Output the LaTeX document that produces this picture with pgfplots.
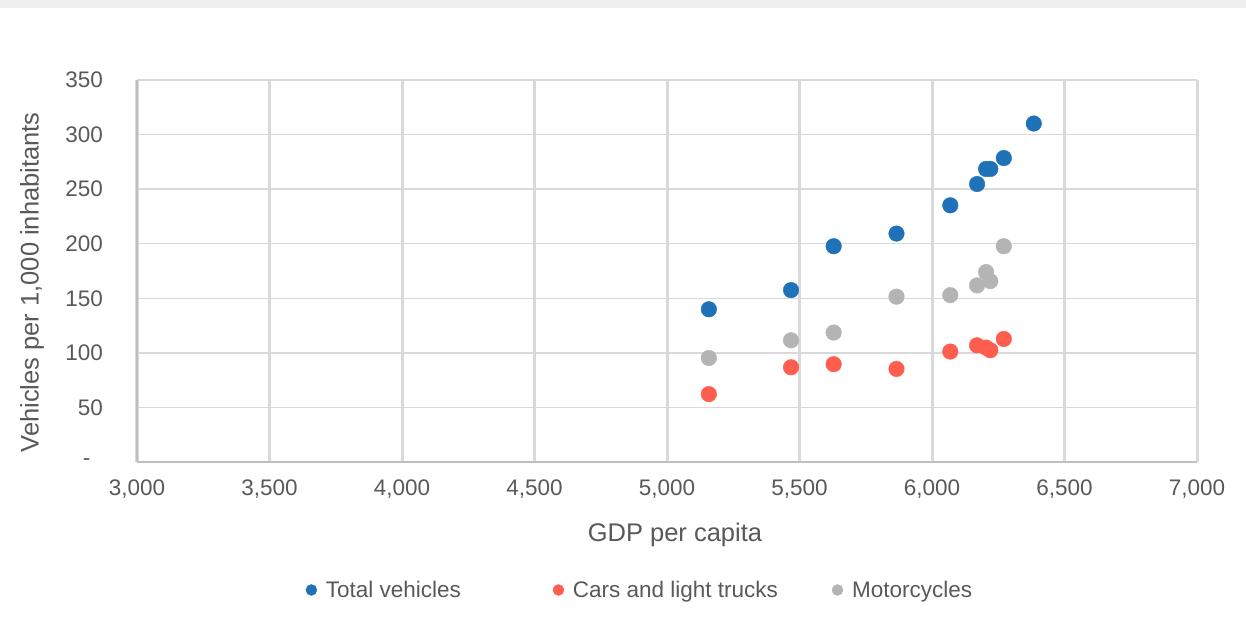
\documentclass[border=0pt]{standalone}
\usepackage{pgfplots}
\pgfplotsset{compat=1.18}
\usepackage{fontspec}
\setmainfont{Liberation Sans}

\definecolor{txt}{HTML}{595959}
\definecolor{gridc}{HTML}{D9D9D9}
\definecolor{axisline}{HTML}{BFBFBF}
\definecolor{band}{HTML}{F0F0F0}
\definecolor{sTotal}{HTML}{1F72B8}
\definecolor{sCars}{HTML}{FF5E4E}
\definecolor{sMoto}{HTML}{B4B4B4}

\begin{document}
\begin{tikzpicture}
% page background and the thin band along the top
\fill[white] (0bp,0bp) rectangle (1246bp,639bp);
\fill[band] (0bp,631bp) rectangle (1246bp,639bp);
\begin{axis}[
  at={(137bp,177bp)}, anchor=south west,
  width=1060bp, height=382bp, scale only axis,
  xmin=3000, xmax=7000, ymin=0, ymax=350,
  xtick={3000,3500,4000,4500,5000,5500,6000,6500,7000},
  xticklabels={{3,000},{3,500},{4,000},{4,500},{5,000},{5,500},{6,000},{6,500},{7,000}},
  ytick={0,50,100,150,200,250,300,350},
  yticklabels={{-\hphantom{0}},50,100,150,200,250,300,350},
  major tick length=0pt,
  axis x line*=bottom, axis y line*=left,
  axis line style={draw=axisline, line width=2bp, -},
  xmajorgrids, ymajorgrids,
  major x grid style={draw=gridc, line width=3bp},
  major y grid style={draw=gridc, line width=1.5bp},
  tick label style={font=\fontsize{22.5bp}{26bp}\selectfont, text=txt},
  xticklabel style={inner sep=0pt, anchor=north, yshift=-18bp},
  yticklabel style={inner sep=0pt, anchor=east, xshift=-34bp},
  xlabel={GDP per capita},
  ylabel={Vehicles per 1,000 inhabitants},
  every axis x label/.style={at={(axis description cs:0.5075,-0.191)}, anchor=center,
    font=\fontsize{25.5bp}{30bp}\selectfont, text=txt},
  every axis y label/.style={at={(axis description cs:-0.099,0.47)}, anchor=center,
    rotate=90, font=\fontsize{25.5bp}{30bp}\selectfont, text=txt},
  legend columns=3,
  legend style={at={(axis description cs:0.4745,-0.335)}, anchor=center,
    draw=none, fill=none, font=\fontsize{22.5bp}{26bp}\selectfont, text=txt,
    /tikz/column 1/.style={column sep=7bp},
    /tikz/column 2/.style={column sep=90bp},
    /tikz/column 3/.style={column sep=7bp},
    /tikz/column 4/.style={column sep=52bp},
    /tikz/column 5/.style={column sep=7bp}},
  legend image code/.code={\draw[#1,mark size=5.5bp] plot coordinates {(0bp,0bp)};},
]
\addplot[only marks, mark=*, color=sTotal, mark size=7.8bp] coordinates {
  (5158,139.9) (5468,157.5) (5629,197.7) (5866,209.3) (6069,235.2)
  (6170,254.7) (6204,268.5) (6220,268.5) (6271,278.5) (6384,310.1)
};
\addlegendentry{Total vehicles}
\addplot[only marks, mark=*, color=sCars, mark size=7.8bp] coordinates {
  (5158,62.2) (5468,86.8) (5629,89.6) (5866,85.3) (6069,101.2)
  (6170,106.9) (6204,104.8) (6220,102.4) (6271,112.7)
};
\addlegendentry{Cars and light trucks}
\addplot[only marks, mark=*, color=sMoto, mark size=7.8bp] coordinates {
  (5158,95.3) (5468,111.5) (5629,118.6) (5866,151.5) (6069,152.9)
  (6170,161.8) (6204,174.0) (6220,165.7) (6271,197.7)
};
\addlegendentry{Motorcycles}
\end{axis}
\end{tikzpicture}
\end{document}
